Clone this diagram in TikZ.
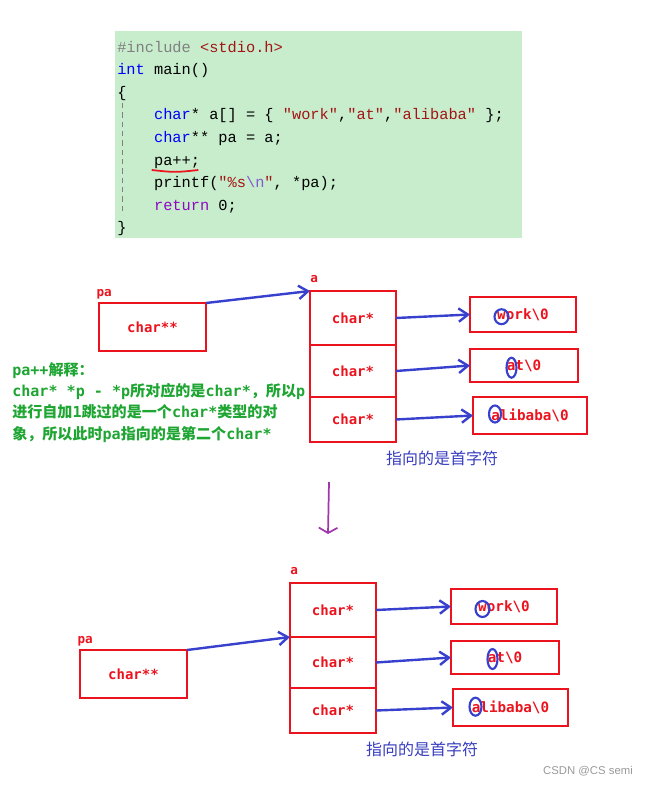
\documentclass[tikz,border=0pt]{standalone}
\usepackage{fontspec}
\usetikzlibrary{arrows.meta,positioning}
\newfontfamily\codefont{Liberation Mono}
\newfontfamily\boxfont{DejaVu Sans Mono}
\newfontfamily\cjkfont{Noto Sans CJK SC}
\newfontfamily\markfont{Liberation Sans}
\newcommand\asc[1]{{\boxfont\bfseries #1}}
\definecolor{codebg}{RGB}{199,237,204}
\definecolor{boxred}{RGB}{235,20,30}
\definecolor{ptrblue}{RGB}{55,65,205}
\definecolor{notegreen}{RGB}{30,165,50}
\definecolor{tipblue}{RGB}{55,60,190}
\definecolor{downpurple}{RGB}{160,55,170}
\definecolor{kwblue}{RGB}{0,0,255}
\definecolor{strred}{RGB}{163,21,21}
\definecolor{incgray}{RGB}{128,128,128}
\definecolor{retpurple}{RGB}{143,8,196}
\definecolor{escpurple}{RGB}{130,90,210}

\begin{document}
\begin{tikzpicture}[x=0.75pt,y=-0.75pt,
    code/.style={inner sep=0pt,font=\codefont\fontsize{11.5}{13}\selectfont},
    cell/.style={draw=boxred,line width=2.1pt,outer sep=0pt,inner sep=0pt,
                 text=boxred,font=\boxfont\fontsize{10.5}{12}\selectfont\bfseries,
                 minimum width=64.5pt},
    strbox/.style={draw=boxred,line width=2.1pt,outer sep=0pt,inner sep=0pt,
                 text=boxred,font=\boxfont\fontsize{10.7}{12}\selectfont\bfseries,anchor=north west},
    lab/.style={inner sep=0pt,text=boxred,anchor=base west,
                font=\boxfont\fontsize{9.5}{11}\selectfont\bfseries},
    ptr/.style={draw=ptrblue,line width=1.8pt,-{Straight Barb[length=7pt,width=10pt]}},
    circ/.style={draw=ptrblue,line width=1.6pt},
    tip/.style={text=tipblue,font=\cjkfont\fontsize{12}{14}\selectfont},
    note/.style={text=notegreen,align=left,inner sep=0pt,anchor=north west,
                 font=\cjkfont\fontsize{11.3}{16}\selectfont\bfseries}]

  \useasboundingbox (0,0) rectangle (651,785);

  % code
  \fill[codebg] (115,31) rectangle (521.5,238);
  \draw[incgray,dash pattern=on 4pt off 3pt,line width=0.7pt] (122.5,103) -- (122.5,215);
  \foreach \t [count=\i from 0] in {
      {{\color{incgray}\#include} {\color{strred}<stdio.h>}},
      {{\color{kwblue}int} main()},
      {\{},
      {\hspace*{2.4em}{\color{kwblue}char}* a[] = \{ {\color{strred}"work"},{\color{strred}"at"},{\color{strred}"alibaba"} \};},
      {\hspace*{2.4em}{\color{kwblue}char}** pa = a;},
      {\hspace*{2.4em}pa++;},
      {\hspace*{2.4em}printf({\color{strred}"\%s}{\color{escpurple}\textbackslash n}{\color{strred}"}, *pa);},
      {\hspace*{2.4em}{\color{retpurple}return} 0;},
      {\}}}
    \node[code,anchor=base west] (line\i) at (117,{52+22.6*\i}) {\t};
  \draw[boxred,line width=1.3pt] (151.7,170) .. controls (175,172.5) .. (198.3,170);

  % before pa++
  \node[cell,minimum width=80.25pt,minimum height=36pt,anchor=north west] (pa) at (99,303) {char**};
  \node[lab] (palab) at ([xshift=-2pt,yshift=5pt]pa.north west) {pa};
  \node[cell,minimum height=40.5pt,anchor=north west] (a1) at (310,291) {char*};
  \node[cell,minimum height=39pt,below=0pt of a1] (a2) {char*};
  \node[cell,minimum height=33.75pt,below=0pt of a2] (a3) {char*};
  \node[lab] (alab) at ([xshift=0pt,yshift=6.75pt]a1.north west) {a};
  \node[strbox,minimum width=79.5pt,minimum height=26.25pt] (s1) at (470,297) {work\textbackslash0};
  \node[strbox,minimum width=81pt,minimum height=24.75pt] (s2) at (470,349) {at\textbackslash0};
  \node[strbox,minimum width=85.5pt,minimum height=27.75pt] (s3) at (473,397) {alibaba\textbackslash0};
  \draw[ptr] (pa.north east) -- (a1.north west);
  \draw[ptr] (a1.east) -- (s1.west);
  \draw[ptr] (a2.east) -- (s2.west);
  \draw[ptr] (a3.east) -- (s3.west);
  \draw[circ] (501.5,316.7) ellipse [x radius=5.25pt,y radius=5.6pt];
  \draw[circ] (511.5,367.7) ellipse [x radius=3.75pt,y radius=7.5pt];
  \draw[circ] (495,414) ellipse [x radius=4.5pt,y radius=6.4pt];
  \node[tip] (tip1) at (442,458) {指向的是首字符};

  \node[note] (expl) at (12,362) {\asc{pa++}解释：\\
    \asc{char* *p - *p}所对应的是\asc{char*}，所以\asc{p}\\
    进行自加\asc{1}跳过的是一个\asc{char*}类型的对\\
    象，所以此时\asc{pa}指向的是第二个\asc{char*}};

  \coordinate (dtop) at (329,482);
  \coordinate (dbot) at (328,534);
  \draw[draw=downpurple,line width=1.3pt,-{Straight Barb[length=4pt,width=14pt]}] (dtop) -- (dbot);

  % after pa++
  \node[cell,minimum width=80.25pt,minimum height=36pt,anchor=north west] (pb) at (80,650) {char**};
  \node[lab] (pblab) at ([xshift=-2pt,yshift=5pt]pb.north west) {pa};
  \node[cell,minimum height=40.5pt,anchor=north west] (b1) at (290,583) {char*};
  \node[cell,minimum height=38.25pt,below=0pt of b1] (b2) {char*};
  \node[cell,minimum height=33.75pt,below=0pt of b2] (b3) {char*};
  \node[lab] (blab) at ([xshift=0pt,yshift=6.75pt]b1.north west) {a};
  \node[strbox,minimum width=79.5pt,minimum height=26.25pt] (t1) at (451,589) {work\textbackslash0};
  \node[strbox,minimum width=81pt,minimum height=24.75pt] (t2) at (451,641) {at\textbackslash0};
  \node[strbox,minimum width=86.25pt,minimum height=27.75pt] (t3) at (453,689) {alibaba\textbackslash0};
  \draw[ptr] (pb.north east) -- (b2.north west);
  \draw[ptr] (b1.east) -- (t1.west);
  \draw[ptr] (b2.east) -- (t2.west);
  \draw[ptr] (b3.east) -- (t3.west);
  \draw[circ] (482.5,609) ellipse [x radius=5.25pt,y radius=6pt];
  \draw[circ] (492.5,659) ellipse [x radius=3.75pt,y radius=7.5pt];
  \draw[circ] (475.5,706.7) ellipse [x radius=4.5pt,y radius=6.75pt];
  \node[tip] (tip2) at (422,749) {指向的是首字符};

  \node[text=black!40,font=\markfont\fontsize{8.5}{10}\selectfont] (wm) at (588,771) {CSDN @CS semi};
\end{tikzpicture}
\end{document}
